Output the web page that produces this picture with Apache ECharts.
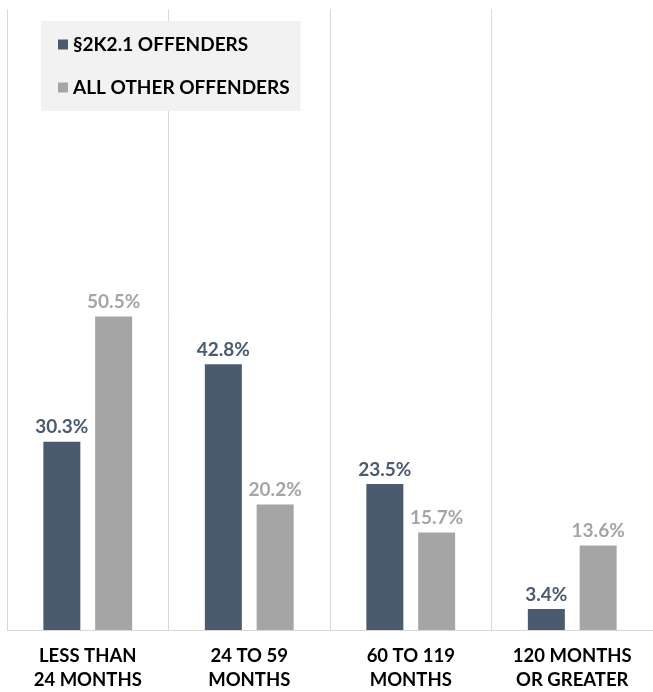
<!DOCTYPE html>
<html>
<head>
<meta charset="utf-8">
<script src="https://cdn.jsdelivr.net/npm/echarts@6/dist/echarts.min.js"></script>
<style>
html, body { margin: 0; padding: 0; background: #fff; }
#chart { width: 653px; height: 692px; }
</style>
</head>
<body>
<div id="chart"></div>
<script>
var categories = ['LESS THAN\n24 MONTHS', '24 TO 59\nMONTHS', '60 TO 119\nMONTHS', '120 MONTHS\nOR GREATER'];
var firearmValues = [30.3, 42.8, 23.5, 3.4];
var otherValues = [50.5, 20.2, 15.7, 13.6];
var seriesNames = ['§2K2.1 OFFENDERS', 'ALL OTHER OFFENDERS'];

var darkColor = '#4a5b70';
var grayColor = '#a5a5a5';
var font = 'Lato';

var myChart = echarts.init(document.getElementById('chart'));

function labelFor(color){
    return {
        show: true,
        position: 'top',
        distance: 5,
        color: color,
        fontFamily: font,
        fontWeight: 'bold',
        fontSize: 19,
        formatter: function(p){ return p.value.toFixed(1) + '%'; }
    };
}

var option = {
    animation: false,
    backgroundColor: '#fff',
    grid: { left: 7, right: -2, top: 9, bottom: 61 },
    legend: {
        orient: 'vertical',
        left: 41,
        top: 21,
        backgroundColor: '#f2f2f2',
        padding: [14, 11, 14, 17],
        itemWidth: 10,
        itemHeight: 10,
        itemGap: 24,
        icon: 'rect',
        textStyle: { fontFamily: font, fontWeight: 'bold', fontSize: 19, color: '#000' },
        data: seriesNames
    },
    xAxis: {
        type: 'category',
        data: categories,
        axisTick: { show: false },
        axisLine: { lineStyle: { color: '#d9d9d9', width: 1 } },
        splitLine: { show: true, lineStyle: { color: '#d9d9d9', width: 1 } },
        axisLabel: {
            margin: 14,
            color: '#000',
            fontFamily: font,
            fontWeight: 'bold',
            fontSize: 18.5,
            lineHeight: 24
        }
    },
    yAxis: {
        type: 'value',
        min: 0,
        max: 100,
        show: false,
        splitLine: { show: false }
    },
    series: [{
        name: seriesNames[0],
        type: 'bar',
        data: firearmValues,
        barWidth: 37,
        barGap: '40%',
        itemStyle: { color: darkColor },
        label: labelFor(darkColor)
    }, {
        name: seriesNames[1],
        type: 'bar',
        data: otherValues,
        barWidth: 37,
        itemStyle: { color: grayColor },
        label: labelFor(grayColor)
    }]
};
myChart.setOption(option);
</script>
</body>
</html>
